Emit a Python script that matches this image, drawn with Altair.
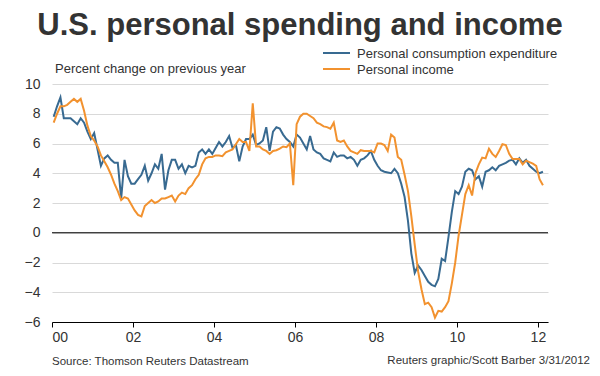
import altair as alt
import pandas as pd

# ---- data (monthly, Jan 2000 .. Feb 2012, % change on previous year) ----
series_names = ["Personal consumption expenditure", "Personal income"]
series_colors = ["#386a91", "#f2922f"]

pce = [
    7.8, 8.5, 9.1, 7.7, 7.7, 7.7, 7.5, 7.3, 7.7, 7.4, 6.8, 6.3,
    6.7, 5.6, 4.5, 5.0, 5.2, 4.9, 4.7, 4.7, 2.3, 4.9, 3.8, 3.3,
    3.3, 3.6, 3.9, 4.5, 3.5, 4.0, 4.6, 4.3, 5.3, 2.9, 4.2, 4.9,
    4.9, 4.3, 4.6, 4.0, 4.5, 4.4, 4.5, 5.4, 5.6, 5.3, 5.6, 5.3,
    5.7, 6.1, 5.8, 6.1, 6.5, 5.7, 5.9, 4.8, 5.8, 6.3, 6.3, 6.6,
    5.9, 6.0, 6.2, 7.1, 5.5, 6.8, 7.1, 7.0, 6.6, 6.3, 6.1, 5.8,
    6.6, 6.4, 6.0, 5.6, 6.5, 5.6, 5.4, 5.3, 5.0, 4.9, 4.8, 5.4,
    5.1, 5.2, 5.2, 5.0, 5.1, 4.9, 4.5, 4.9, 5.0, 5.2, 5.5, 4.9,
    4.5, 4.2, 4.1, 4.05, 4.0, 4.3, 4.0, 3.3, 2.4, 0.8, -1.4, -2.7,
    -2.2, -2.5, -2.9, -3.3, -3.5, -3.6, -3.1, -1.75, -1.9, -0.3, 1.4, 2.8,
    2.6, 3.1, 4.1, 4.3, 4.2, 3.6, 3.8, 3.1, 4.1, 4.2, 4.4, 4.2,
    4.5, 4.6, 4.7, 4.85, 4.9, 4.6, 5.0, 4.7, 4.9, 4.5, 4.3, 4.1,
    4.0, 4.1,
]

income = [
    7.4, 8.0, 8.5, 8.5, 8.6, 8.8, 9.0, 8.8, 9.0, 8.2, 7.2, 6.5,
    6.2, 5.8, 5.2, 4.8, 4.4, 3.9, 3.3, 2.8, 2.2, 2.4, 2.3, 1.9,
    1.5, 1.2, 1.1, 1.8, 2.0, 2.2, 2.0, 2.1, 2.3, 2.3, 2.4, 2.5,
    2.1, 2.5, 2.7, 2.6, 3.0, 3.2, 3.6, 3.9, 4.6, 5.0, 5.1, 5.1,
    5.2, 5.2, 5.15, 5.4, 5.5, 5.6, 5.95, 6.3, 6.1, 6.1, 5.5, 8.7,
    5.8, 5.8, 5.6, 5.5, 5.3, 5.5, 5.55, 5.65, 5.8, 5.75, 6.0, 3.2,
    7.3, 7.8, 8.0, 8.0, 7.85, 7.7, 7.4, 7.3, 7.15, 7.1, 7.0, 7.4,
    6.2, 6.1, 6.2, 5.8, 5.5, 5.4, 5.3, 5.55, 5.5, 5.5, 5.5, 5.4,
    6.0, 6.0, 5.9, 5.5, 6.6, 6.4, 5.1, 4.9, 3.9, 2.8, 1.1, -0.8,
    -2.6, -3.8, -4.8, -4.7, -5.0, -5.7, -5.25, -5.3, -5.0, -4.6, -3.4, -2.0,
    -0.2, 1.2, 2.6, 3.2, 2.5, 4.0, 4.6, 5.05, 5.0, 5.65, 5.3, 5.1,
    5.5, 5.95, 5.9, 5.3, 4.95, 4.95, 4.95, 4.6, 4.85, 4.75, 4.65, 4.5,
    3.6, 3.2,
]

x_tick_years = [2000, 2002, 2004, 2006, 2008, 2010, 2012]
y_ticks = [-6, -4, -2, 0, 2, 4, 6, 8, 10]

title_text = "U.S. personal spending and income"
unit_text = "Percent change on previous year"
source_text = "Source: Thomson Reuters Datastream"
credit_text = "Reuters graphic/Scott Barber 3/31/2012"

# ---- build table ----
n = len(pce)
t = [2000 + (i + 0.5) / 12 for i in range(n)]
df = pd.DataFrame({
    "t": t + t,
    "value": pce + income,
    "series": [series_names[0]] * n + [series_names[1]] * n,
})

FONT = "Liberation Sans"
TXT = "#333333"

x_enc = alt.X(
    "t:Q",
    scale=alt.Scale(domain=[2000, 2012.25], nice=False, zero=False),
    axis=alt.Axis(
        values=x_tick_years,
        labelExpr="substring(toString(datum.value), 2)",
        grid=False, domain=True, domainColor="black", domainWidth=1,
        ticks=True, tickColor="black", tickSize=5, tickWidth=1,
        labelFont=FONT, labelFontSize=14, labelColor=TXT, labelPadding=3,
        labelOverlap=False, title=None, zindex=1,
    ),
)
y_enc = alt.Y(
    "value:Q",
    scale=alt.Scale(domain=[-6, 10], nice=False, zero=False),
    axis=alt.Axis(
        values=y_ticks, grid=True, gridColor="#d9d9d9", gridWidth=1,
        domain=False, ticks=False,
        labelFont=FONT, labelFontSize=14, labelColor=TXT, labelPadding=12,
        labelOverlap=False, title=None,
    ),
)

lines = alt.Chart(df).mark_line(strokeWidth=2).encode(
    x=x_enc,
    y=y_enc,
    color=alt.Color("series:N",
                    scale=alt.Scale(domain=series_names, range=series_colors),
                    legend=None),
)

zero_rule = alt.Chart(pd.DataFrame({"value": [0]})).mark_rule(
    color="black", strokeWidth=1).encode(y=y_enc)


def label(text, x, y, size, align="left", weight="normal"):
    return alt.Chart(pd.DataFrame({"txt": [text]})).mark_text(
        font=FONT, fontSize=size, fontWeight=weight, color=TXT,
        align=align, baseline="alphabetic",
    ).encode(text="txt:N", x=alt.value(x), y=alt.value(y))


def swatch(color, x1, x2, y):
    return alt.Chart(pd.DataFrame({"s": [0]})).mark_rule(
        color=color, strokeWidth=2).encode(
        x=alt.value(x1), x2=alt.value(x2), y=alt.value(y))


chart = alt.layer(
    zero_rule,
    lines,
    label(title_text, 248, -49, 31, align="center", weight="bold"),
    label(unit_text, 3, -11, 13),
    swatch(series_colors[0], 271, 298, -31),
    swatch(series_colors[1], 271, 298, -15),
    label(series_names[0], 305, -26, 13),
    label(series_names[1], 305, -10, 13),
    label(source_text, 0, 281, 11.5),
    label(credit_text, 538, 280, 11.5, align="right"),
).properties(
    width=496,
    height=238,
    autosize="none",
    padding={"left": 44, "top": 76, "right": 44, "bottom": 46},
    background="white",
).configure_view(stroke=None)

chart.save("out.html", embed_options={"renderer": "svg", "actions": False})
